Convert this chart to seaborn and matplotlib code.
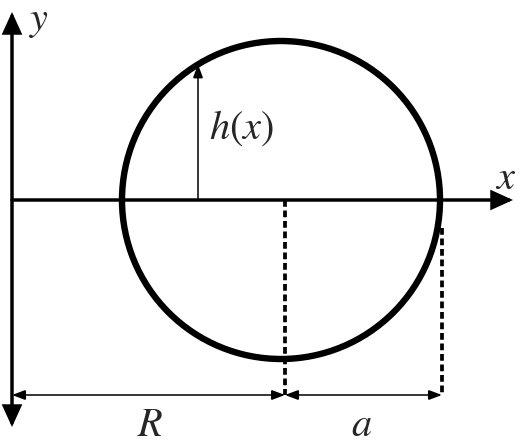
import numpy as np
import pandas as pd
import matplotlib
matplotlib.use("Agg")
import matplotlib.pyplot as plt
from matplotlib.patches import Circle, FancyArrowPatch
import seaborn as sns

# ------------------ geometry (units = px, origin at axes crossing) ------------------
center_x = 269
radius = 159
R_len = 273          # y-axis -> dashed line at circle centre
a_len = 157          # centre dashed line -> right dashed line
h_x = 186            # where h(x) is drawn
yaxis_top, yaxis_bottom = 188, -227
xaxis_end = 501
dim_y = -195         # dimension line level
right_dash_top = -28

labels = ["$y$", "$x$", "$h(x)$", "$R$", "$a$"]
label_x = [27, 494, 229, 138, 350]
label_y = [180, 22, 72, -225, -225]

# ------------------ style ------------------
sns.set_style("white")
plt.rcParams["mathtext.fontset"] = "stix"

fig = plt.figure(figsize=(5.2, 4.45), dpi=100)
ax = fig.add_axes([0, 0, 1, 1])
ax.set_xlim(-12, 508)
ax.set_ylim(-245, 200)
ax.set_aspect("equal")
ax.axis("off")


def arrow(p0, p1, style, lw, ms, z=3):
    ax.add_patch(FancyArrowPatch(p0, p1, arrowstyle=style, mutation_scale=ms,
                                 lw=lw, color="black", shrinkA=0, shrinkB=0,
                                 joinstyle="miter", zorder=z))


# axes
arrow((0, yaxis_bottom), (0, yaxis_top), "<|-|>,head_length=0.55,head_width=0.25", 2.5, 22)
arrow((0, 0), (xaxis_end, 0), "-|>,head_length=0.55,head_width=0.25", 2.5, 22)

# circle
ax.add_patch(Circle((center_x, 0), radius, fill=False, lw=4.6, color="black", zorder=4))

# dashed guide lines
dashes = pd.DataFrame({
    "x": [R_len, R_len, R_len + a_len, R_len + a_len],
    "y": [0, dim_y, right_dash_top, dim_y],
    "line": ["c", "c", "r", "r"],
})
for _, d in dashes.groupby("line"):
    sns.lineplot(data=d, x="x", y="y", sort=False, estimator=None, color="black",
                 lw=2.7, linestyle=(0, (1.8, 1.0)), ax=ax, zorder=2)

# h(x) arrow
h_top = np.sqrt(radius ** 2 - (h_x - center_x) ** 2)
arrow((h_x, 0), (h_x, h_top), "-|>,head_length=0.8,head_width=0.3", 1.1, 10)

# dimension arrows R and a
arrow((0, dim_y), (R_len, dim_y), "<|-|>,head_length=0.8,head_width=0.3", 1.1, 10)
arrow((R_len, dim_y), (R_len + a_len, dim_y), "<|-|>,head_length=0.8,head_width=0.3", 1.1, 10)

for t, x, y in zip(labels, label_x, label_y):
    ax.text(x, y, t, fontsize=29, ha="center", va="center")

fig.savefig("out.png", dpi=100)
